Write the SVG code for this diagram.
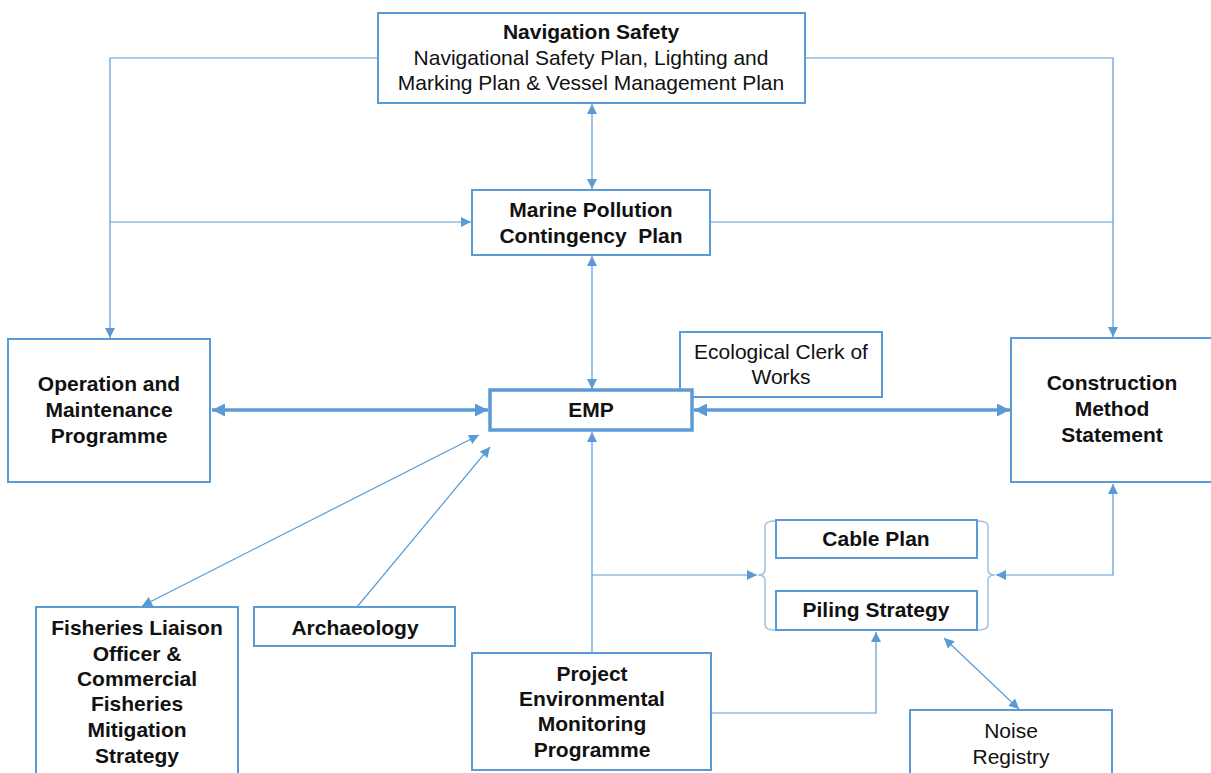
<svg xmlns="http://www.w3.org/2000/svg" width="1211" height="773" viewBox="0 0 1211 773">
<defs>
<style>
.box{fill:#fff;stroke:#5B9BD5;stroke-width:2}
.emp{fill:#fff;stroke:#5B9BD5;stroke-width:3.5}
.t{font-family:"Liberation Sans",Arial,sans-serif;font-size:21px;fill:#111;text-anchor:middle}
.b{font-weight:bold}
.c{fill:none;stroke:#5B9BD5;stroke-width:1.2}
.ck{fill:none;stroke:#5B9BD5;stroke-width:3.5}
.br{fill:none;stroke:#9DC3E6;stroke-width:1.5}
</style>
<marker id="ah" viewBox="0 0 10 10" refX="10" refY="5" markerWidth="12" markerHeight="10" markerUnits="userSpaceOnUse" orient="auto-start-reverse"><path d="M0,0 L10,5 L0,10 z" fill="#5B9BD5"/></marker>
<marker id="ahb" viewBox="0 0 10 10" refX="10" refY="5" markerWidth="14" markerHeight="13" markerUnits="userSpaceOnUse" orient="auto-start-reverse"><path d="M0,0 L10,5 L0,10 z" fill="#5B9BD5"/></marker>
</defs>
<rect width="1211" height="773" fill="#fff"/>

<g id="connectors">
<line class="c" x1="592" y1="104" x2="592" y2="189" marker-start="url(#ah)" marker-end="url(#ah)"/>
<polyline class="c" points="378,58 110,58 110,338" marker-end="url(#ah)"/>
<line class="c" x1="110" y1="222" x2="471" y2="222" marker-end="url(#ah)"/>
<polyline class="c" points="805,58 1113,58 1113,337" marker-end="url(#ah)"/>
<line class="c" x1="711" y1="222" x2="1113" y2="222"/>
<line class="c" x1="592" y1="256" x2="592" y2="389" marker-start="url(#ah)" marker-end="url(#ah)"/>
<line class="ck" x1="212" y1="410" x2="488" y2="410" marker-start="url(#ahb)" marker-end="url(#ahb)"/>
<line class="ck" x1="694" y1="410" x2="1010" y2="410" marker-start="url(#ahb)" marker-end="url(#ahb)"/>
<line class="c" x1="592" y1="652" x2="592" y2="432" marker-end="url(#ah)"/>
<line class="c" x1="592" y1="575" x2="757" y2="575" marker-end="url(#ah)"/>
<polyline class="c" points="996,575 1113,575 1113,484" marker-start="url(#ah)" marker-end="url(#ah)"/>
<polyline class="c" points="711,713 876,713 876,632" marker-end="url(#ah)"/>
<line class="c" x1="944" y1="638" x2="1019" y2="709" marker-start="url(#ah)" marker-end="url(#ah)"/>
<line class="c" x1="142" y1="606" x2="479" y2="435" marker-start="url(#ah)" marker-end="url(#ah)"/>
<line class="c" x1="357" y1="607" x2="490" y2="447" marker-end="url(#ah)"/>
</g>

<g id="navigation-safety">
<rect class="box" x="378" y="13" width="427" height="90"/>
<text class="t b" x="591" y="39">Navigation Safety</text>
<text class="t" x="591" y="65">Navigational Safety Plan, Lighting and</text>
<text class="t" x="591" y="90">Marking Plan &amp; Vessel Management Plan</text>
</g>

<g id="marine-pollution">
<rect class="box" x="472" y="190" width="238" height="65"/>
<text class="t b" x="591" y="217">Marine Pollution</text>
<text class="t b" x="591" y="243" xml:space="preserve">Contingency  Plan</text>
</g>

<g id="operation-maintenance">
<rect class="box" x="8" y="339" width="202" height="143"/>
<text class="t b" x="109" y="391">Operation and</text>
<text class="t b" x="109" y="417">Maintenance</text>
<text class="t b" x="109" y="443">Programme</text>
</g>

<g id="ecological-clerk">
<rect class="box" x="680" y="332" width="202" height="65"/>
<text class="t" x="781" y="359">Ecological Clerk of</text>
<text class="t" x="781" y="384">Works</text>
</g>

<g id="emp">
<rect class="emp" x="490" y="390" width="202" height="40"/>
<text class="t b" x="591" y="417">EMP</text>
</g>

<g id="construction-method">
<rect class="box" x="1011" y="338" width="210" height="144"/>
<text class="t b" x="1112" y="390">Construction</text>
<text class="t b" x="1112" y="416">Method</text>
<text class="t b" x="1112" y="442">Statement</text>
</g>

<g id="cable-piling">
<path class="br" d="M776,521 Q765,521 765,526 L765,570 Q765,575 758,575 Q765,575 765,580 L765,625 Q765,630 776,630"/>
<path class="br" d="M977,521 Q988,521 988,526 L988,570 Q988,575 995,575 Q988,575 988,580 L988,625 Q988,630 977,630"/>
<g id="cable-plan">
<rect class="box" x="776" y="520" width="201" height="38"/>
<text class="t b" x="876" y="546">Cable Plan</text>
</g>
<g id="piling-strategy">
<rect class="box" x="776" y="591" width="201" height="39"/>
<text class="t b" x="876" y="617">Piling Strategy</text>
</g>
</g>

<g id="fisheries">
<rect class="box" x="36" y="607" width="202" height="175"/>
<text class="t b" x="137" y="635">Fisheries Liaison</text>
<text class="t b" x="137" y="661">Officer &amp;</text>
<text class="t b" x="137" y="686">Commercial</text>
<text class="t b" x="137" y="711">Fisheries</text>
<text class="t b" x="137" y="737">Mitigation</text>
<text class="t b" x="137" y="763">Strategy</text>
</g>

<g id="archaeology">
<rect class="box" x="254" y="607" width="201" height="39"/>
<text class="t b" x="355" y="635">Archaeology</text>
</g>

<g id="project-environmental">
<rect class="box" x="472" y="653" width="239" height="117"/>
<text class="t b" x="592" y="681">Project</text>
<text class="t b" x="592" y="706">Environmental</text>
<text class="t b" x="592" y="731">Monitoring</text>
<text class="t b" x="592" y="757">Programme</text>
</g>

<g id="noise-registry">
<rect class="box" x="910" y="710" width="202" height="75"/>
<text class="t" x="1011" y="738">Noise</text>
<text class="t" x="1011" y="764">Registry</text>
</g>
</svg>
